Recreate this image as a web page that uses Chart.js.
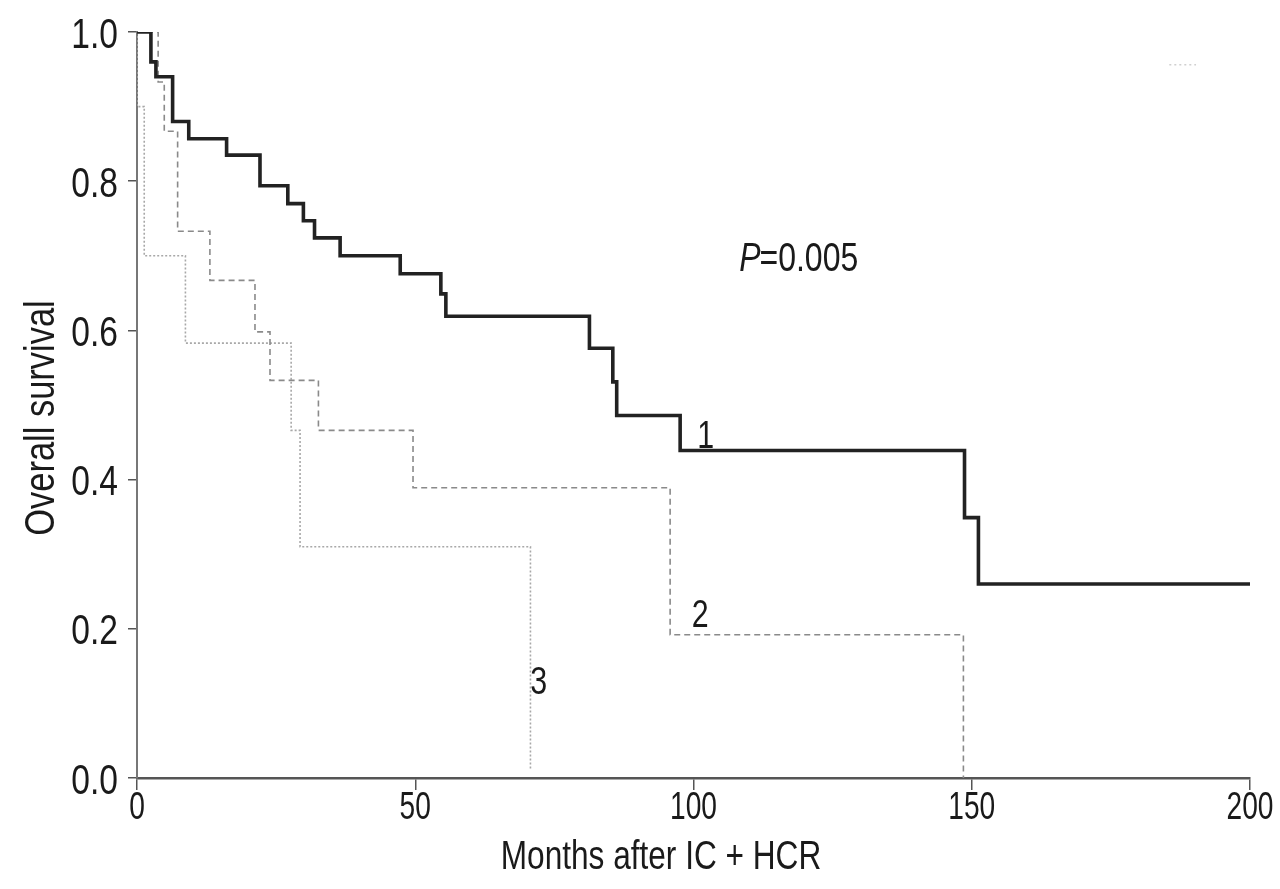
<!DOCTYPE html>
<html>
<head>
<meta charset="utf-8">
<script src="https://cdn.jsdelivr.net/npm/chart.js@4"></script>
<style>
  html, body { margin: 0; padding: 0; background: #fff; }
  #c { display: block; }
</style>
</head>
<body>
<canvas id="c" width="1280" height="889"></canvas>
<script>
// ---- Data (Kaplan-Meier steps) ----
const months1 = [0, 2.5, 3.4, 6.4, 9.3, 16.1, 22.1, 27.1, 29.9, 31.9, 36.5, 47.3, 54.6, 55.5, 81.3, 85.5, 86.2, 97.6, 148.7, 151.2, 200];
const surv1   = [1, 0.96, 0.94, 0.88, 0.857, 0.835, 0.794, 0.77, 0.747, 0.724, 0.70, 0.676, 0.649, 0.619, 0.576, 0.531, 0.486, 0.439, 0.349, 0.26, 0.26];

const months2 = [0, 3.8, 4.9, 7.3, 13.1, 21.2, 23.9, 32.6, 49.6, 95.8, 148.5];
const surv2   = [1, 0.933, 0.867, 0.733, 0.667, 0.598, 0.533, 0.466, 0.389, 0.192, 0];

const months3 = [0, 0, 1.3, 8.7, 27.7, 29.3, 70.7];
const surv3   = [1, 0.9, 0.7, 0.583, 0.466, 0.31, 0.01];

// faint remnant mark at upper right
const monthsMark = [185.5, 190.3];
const survMark   = [0.956, 0.956];

const xTicks = [0, 50, 100, 150, 200];
const yTicks = [0.0, 0.2, 0.4, 0.6, 0.8, 1.0];

const xTitle = 'Months after IC + HCR';
const yTitle = 'Overall survival';
const curveLabels = ['1', '2', '3'];
const pText = ['P', '=0.005'];

const FONT = "'Liberation Sans', Arial, Helvetica, sans-serif";

function pts(xs, ys) { return xs.map((x, i) => ({ x: x, y: ys[i] })); }

// positions of the in-plot annotations, in data units
const annot = [
  { text: curveLabels[0], x: 102.2, y: 0.457 },
  { text: curveLabels[1], x: 101.2, y: 0.216 },
  { text: curveLabels[2], x: 72.2,  y: 0.127 }
];
const pPos = { x: 108.2, y: 0.694 };

function narrowText(ctx, text, x, y, size, sx, align, italic) {
  ctx.save();
  ctx.translate(x, y);
  ctx.scale(sx, 1);
  ctx.font = (italic ? 'italic ' : '') + size + 'px ' + FONT;
  ctx.textAlign = align;
  ctx.textBaseline = 'middle';
  ctx.fillText(text, 0, 0);
  const w = ctx.measureText(text).width * sx;
  ctx.restore();
  return w;
}

const textPlugin = {
  id: 'texts',
  afterDraw(chart) {
    const ctx = chart.ctx;
    const xs = chart.scales.x, ys = chart.scales.y;
    ctx.save();
    ctx.fillStyle = '#1a1a1a';
    // tick labels
    yTicks.forEach(v => {
      narrowText(ctx, v.toFixed(1), 118, ys.getPixelForValue(v) + 4, 42, 0.8, 'right');
    });
    xTicks.forEach(v => {
      narrowText(ctx, String(v), xs.getPixelForValue(v), 809, 38, 0.74, 'center');
    });
    // curve labels
    annot.forEach(a => {
      narrowText(ctx, a.text, xs.getPixelForValue(a.x), ys.getPixelForValue(a.y), 38, 0.8, 'center');
    });
    // P value
    const px = xs.getPixelForValue(pPos.x), py = ys.getPixelForValue(pPos.y);
    const w = narrowText(ctx, pText[0], px, py, 40, 0.8, 'left', true);
    narrowText(ctx, pText[1], px + w - 1, py, 40, 0.8, 'left');
    // axis titles
    narrowText(ctx, xTitle, 661, 858, 40, 0.79, 'center');
    ctx.save();
    ctx.translate(42, 418);
    ctx.rotate(-Math.PI / 2);
    narrowText(ctx, yTitle, 0, 0, 42, 0.82, 'center');
    ctx.restore();
    ctx.restore();
  }
};

new Chart(document.getElementById('c'), {
  type: 'line',
  data: {
    datasets: [
      { label: '1', data: pts(months1, surv1), stepped: true, borderColor: '#222222', borderWidth: 3.6, pointRadius: 0, fill: false },
      { label: '2', data: pts(months2, surv2), stepped: true, borderColor: '#8a8a8a', borderWidth: 1.6, borderDash: [6, 4], pointRadius: 0, fill: false },
      { label: '3', data: pts(months3, surv3), stepped: true, borderColor: '#a8a8a8', borderWidth: 1.6, borderDash: [2, 2], pointRadius: 0, fill: false },
      { label: 'mark', data: pts(monthsMark, survMark), borderColor: '#d0d0d0', borderWidth: 1.5, borderDash: [2, 3], pointRadius: 0, fill: false }
    ]
  },
  options: {
    responsive: false,
    animation: false,
    devicePixelRatio: 1,
    layout: { padding: { top: 32, right: 30, left: 0, bottom: 0 } },
    plugins: { legend: { display: false }, tooltip: { enabled: false }, title: { display: false } },
    scales: {
      x: {
        type: 'linear', min: 0, max: 200,
        afterFit(s) { s.height = 111; },
        afterBuildTicks(s) { s.ticks = xTicks.map(v => ({ value: v })); },
        border: { display: true, color: '#555555', width: 2.5 },
        grid: { display: true, drawOnChartArea: false, drawTicks: true, tickLength: 12, color: '#555555', lineWidth: 1.5 },
        ticks: { display: false }
      },
      y: {
        type: 'linear', min: 0, max: 1,
        afterFit(s) { s.width = 137; },
        afterBuildTicks(s) { s.ticks = yTicks.map(v => ({ value: v })); },
        border: { display: true, color: '#777777', width: 2 },
        grid: { display: true, drawOnChartArea: false, drawTicks: true, tickLength: 9, color: '#555555', lineWidth: 1.5 },
        ticks: { display: false }
      }
    }
  },
  plugins: [textPlugin]
});
</script>
</body>
</html>
